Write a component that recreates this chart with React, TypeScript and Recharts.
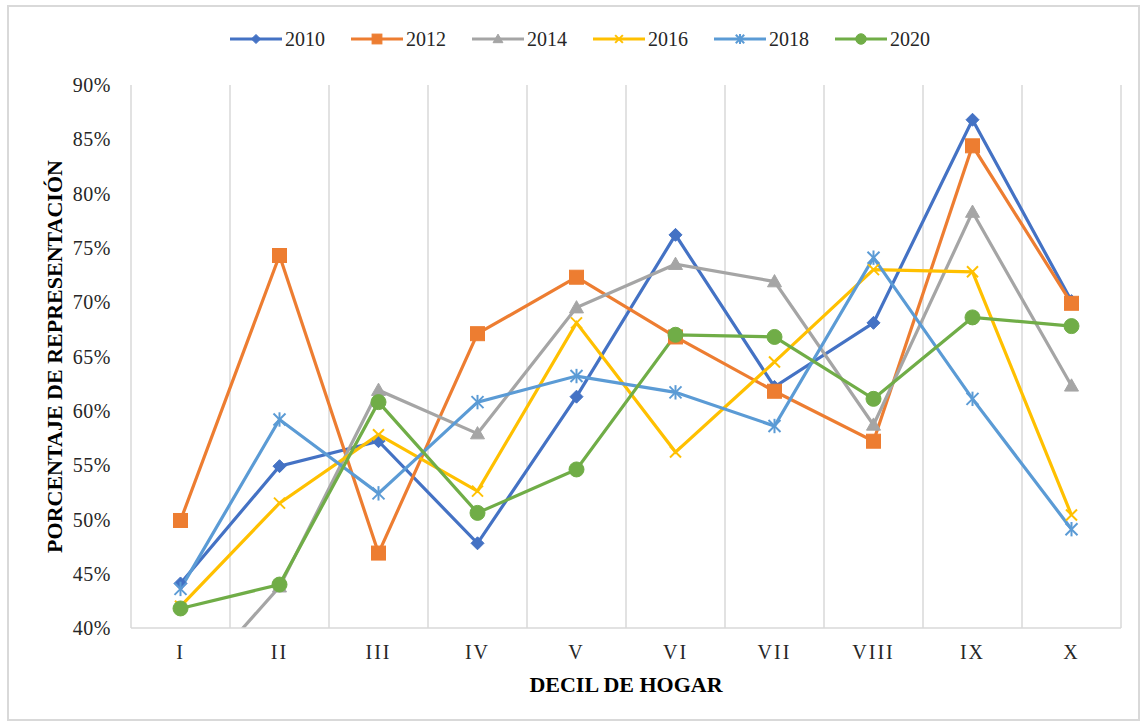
import React from 'react';
import { LineChart, Line, XAxis, YAxis, CartesianGrid } from 'recharts';

const deciles = ['I', 'II', 'III', 'IV', 'V', 'VI', 'VII', 'VIII', 'IX', 'X'];
const s2010 = [44.1, 54.9, 57.2, 47.8, 61.3, 76.2, 62.2, 68.1, 86.8, 70.1];
const s2012 = [49.9, 74.3, 46.9, 67.1, 72.3, 66.8, 61.8, 57.2, 84.4, 69.9];
const s2014 = [33.5, 43.8, 61.9, 57.9, 69.5, 73.5, 71.9, 58.7, 78.3, 62.3];
const s2016 = [42.0, 51.5, 57.8, 52.6, 68.1, 56.2, 64.5, 73.0, 72.8, 50.4];
const s2018 = [43.6, 59.2, 52.4, 60.8, 63.2, 61.7, 58.6, 74.1, 61.1, 49.1];
const s2020 = [41.8, 44.0, 60.8, 50.6, 54.6, 67.0, 66.8, 61.1, 68.6, 67.8];
const yTicks = [40, 45, 50, 55, 60, 65, 70, 75, 80, 85, 90];

const series = [
  { name: '2010', values: s2010, color: '#4472C4', marker: 'diamond' },
  { name: '2012', values: s2012, color: '#ED7D31', marker: 'square' },
  { name: '2014', values: s2014, color: '#A5A5A5', marker: 'triangle' },
  { name: '2016', values: s2016, color: '#FFC000', marker: 'x' },
  { name: '2018', values: s2018, color: '#5B9BD5', marker: 'star' },
  { name: '2020', values: s2020, color: '#70AD47', marker: 'circle' },
];

const data = deciles.map((d, i) => {
  const row: any = { decil: d };
  series.forEach((s) => { row['y' + s.name] = s.values[i]; });
  return row;
});

const FONT = '"Liberation Serif", "Times New Roman", serif';

function Marker({ type, cx, cy, color, k = 1 }: any) {
  if (cx == null || cy == null) return <g />;
  switch (type) {
    case 'diamond': {
      const r = 6.5 * k;
      return <polygon points={`${cx},${cy - r} ${cx + r},${cy} ${cx},${cy + r} ${cx - r},${cy}`} fill={color} stroke={color} strokeWidth={1} />;
    }
    case 'square': {
      const h = 7 * k;
      return <rect x={cx - h} y={cy - h} width={2 * h} height={2 * h} fill={color} stroke={color} strokeWidth={1} />;
    }
    case 'triangle': {
      const r = 7 * k;
      return <polygon points={`${cx},${cy - r} ${cx + r},${cy + r * 0.75} ${cx - r},${cy + r * 0.75}`} fill={color} stroke={color} strokeWidth={1} />;
    }
    case 'x': {
      const r = 5.5 * k;
      return (
        <g stroke={color} strokeWidth={2}>
          <line x1={cx - r} y1={cy - r} x2={cx + r} y2={cy + r} />
          <line x1={cx - r} y1={cy + r} x2={cx + r} y2={cy - r} />
        </g>
      );
    }
    case 'star': {
      const r = 6 * k;
      return (
        <g stroke={color} strokeWidth={2}>
          <line x1={cx - r} y1={cy - r} x2={cx + r} y2={cy + r} />
          <line x1={cx - r} y1={cy + r} x2={cx + r} y2={cy - r} />
          <line x1={cx} y1={cy - r * 1.2} x2={cx} y2={cy + r * 1.2} />
        </g>
      );
    }
    default: {
      return <circle cx={cx} cy={cy} r={7.5 * k} fill={color} stroke={color} strokeWidth={1} />;
    }
  }
}

function LegendBox() {
  return (
    <div style={{ position: 'absolute', left: 230, top: 28, height: 22, display: 'flex', alignItems: 'center', fontFamily: FONT, fontSize: 20, color: '#262626' }}>
      {series.map((s) => (
        <div key={s.name} style={{ width: 121, display: 'flex', alignItems: 'center' }}>
          <svg width={52} height={22} style={{ display: 'block' }}>
            <line x1={0} y1={11} x2={52} y2={11} stroke={s.color} strokeWidth={3} />
            <Marker type={s.marker} cx={26} cy={11} color={s.color} k={0.7} />
          </svg>
          <span style={{ marginLeft: 3, lineHeight: '22px' }}>{s.name}</span>
        </div>
      ))}
    </div>
  );
}

export default function App() {
  return (
    <div style={{ position: 'absolute', left: 0, top: 0, width: 1142, height: 724, background: '#fff', overflow: 'hidden' }}>
      <div style={{ position: 'absolute', left: 7, top: 5, width: 1133, height: 716, border: '2px solid #d9d9d9', boxSizing: 'border-box' }} />
      <div style={{ position: 'absolute', left: 0, top: 0 }}>
        <LineChart width={1142} height={724} data={data} margin={{ top: 85, right: 21, bottom: 0, left: 0 }}>
          <CartesianGrid
            horizontal={false}
            stroke="#d9d9d9"
            strokeWidth={1.5}
            verticalCoordinatesGenerator={({ offset }: any) =>
              Array.from({ length: deciles.length + 1 }, (_, i) => offset.left + (offset.width * i) / deciles.length)
            }
          />
          <XAxis
            dataKey="decil"
            scale="band"
            height={96}
            axisLine={{ stroke: '#d9d9d9', strokeWidth: 1.5 }}
            tickLine={false}
            tickSize={0}
            tickMargin={17}
            tick={{ fontFamily: FONT, fontSize: 20, fill: '#262626', letterSpacing: 2 }}
            label={{
              content: (props: any) => {
                const vb = props.viewBox;
                return (
                  <text x={vb.x + vb.width / 2} y={692} textAnchor="middle" fontFamily={FONT} fontSize={22} fontWeight="bold" fill="#000">
                    DECIL DE HOGAR
                  </text>
                );
              },
            }}
          />
          <YAxis
            width={131}
            domain={[40, 90]}
            ticks={yTicks}
            allowDataOverflow
            axisLine={false}
            tickLine={false}
            tickSize={0}
            tickMargin={20}
            tickFormatter={(v: number) => `${v}%`}
            tick={{ fontFamily: FONT, fontSize: 20, fill: '#262626', letterSpacing: 0.5 }}
            label={{
              content: (props: any) => {
                const vb = props.viewBox;
                const cy = vb.y + vb.height / 2;
                return (
                  <text x={62} y={cy} transform={`rotate(-90, 62, ${cy})`} textAnchor="middle" fontFamily={FONT} fontSize={22} fontWeight="bold" fill="#000">
                    PORCENTAJE DE REPRESENTACIÓN
                  </text>
                );
              },
            }}
          />
          {series.map((s) => (
            <Line
              key={s.name}
              type="linear"
              dataKey={'y' + s.name}
              name={s.name}
              stroke={s.color}
              strokeWidth={3.2}
              isAnimationActive={false}
              dot={(p: any) => <Marker key={`${s.name}-${p.index}`} type={s.marker} cx={p.cx} cy={p.cy} color={s.color} />}
              activeDot={false}
            />
          ))}
        </LineChart>
      </div>
      <LegendBox />
    </div>
  );
}
